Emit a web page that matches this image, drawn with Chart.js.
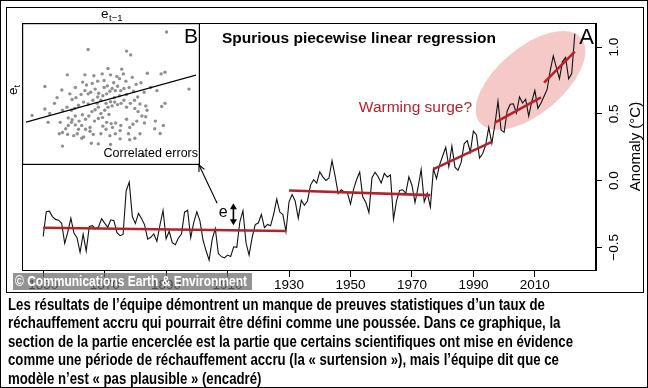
<!DOCTYPE html>
<html><head><meta charset="utf-8">
<script src="https://cdn.jsdelivr.net/npm/chart.js@4"></script>
<style>
html,body{margin:0;padding:0;background:#fff;}
#wrap{position:relative;width:648px;height:388px;overflow:hidden;background:#fff;}
canvas{position:absolute;display:block;}
#main{left:0;top:0;}
#inset{left:22px;top:23px;background:#fff;}
.frame{position:absolute;border:1.5px solid #000;box-sizing:border-box;pointer-events:none;}
#wm{position:absolute;left:13px;top:273px;width:239px;height:17px;background:rgba(105,105,105,0.72);overflow:hidden;}
#wm span{position:absolute;left:2px;top:0;white-space:nowrap;color:#fff;font:bold 14.5px "Liberation Sans",Arial,sans-serif;line-height:17px;transform-origin:0 50%;}
#caption{position:absolute;left:8px;top:295px;color:#000;}
#caption div{white-space:nowrap;font:bold 16.5px "Liberation Sans",Arial,sans-serif;line-height:18.4px;transform-origin:0 50%;}
</style></head>
<body>
<div id="wrap">
<canvas id="main" width="648" height="388"></canvas>
<canvas id="inset" width="178" height="142"></canvas>
<div id="wm"><span>© Communications Earth &amp; Environment</span></div>
<div class="frame" style="left:0;top:0;width:648px;height:388px"></div>
<div class="frame" style="left:6px;top:7px;width:638px;height:286px"></div>
<div id="caption">
<div>Les résultats de l’équipe démontrent un manque de preuves statistiques d’un taux de</div>
<div>réchauffement accru qui pourrait être défini comme une poussée. Dans ce graphique, la</div>
<div>section de la partie encerclée est la partie que certains scientifiques ont mise en évidence</div>
<div>comme une période de réchauffement accru (la « surtension »), mais l’équipe dit que ce</div>
<div>modèle n’est « pas plausible » (encadré)</div>
</div>
</div>
<script>
// ---------------- data ----------------
const startYear = 1850;
const anomaly = [
-0.418,-0.233,-0.229,-0.270,-0.291,-0.297,-0.320,-0.471,-0.387,-0.282,
-0.393,-0.428,-0.537,-0.401,-0.529,-0.344,-0.338,-0.361,-0.348,-0.285,
-0.319,-0.350,-0.294,-0.301,-0.391,-0.413,-0.404,-0.077,-0.012,-0.270,
-0.322,-0.246,-0.284,-0.332,-0.439,-0.425,-0.400,-0.455,-0.333,-0.224,
-0.436,-0.380,-0.465,-0.480,-0.430,-0.401,-0.237,-0.222,-0.428,-0.314,
-0.234,-0.302,-0.444,-0.526,-0.596,-0.441,-0.359,-0.547,-0.570,-0.579,
-0.558,-0.568,-0.496,-0.500,-0.309,-0.226,-0.466,-0.558,-0.425,-0.330,
-0.318,-0.254,-0.352,-0.329,-0.339,-0.251,-0.139,-0.236,-0.255,-0.383,
-0.159,-0.105,-0.153,-0.282,-0.148,-0.185,-0.153,-0.034,0.007,-0.019,
0.065,0.028,0.001,0.019,0.149,0.033,-0.098,-0.069,-0.085,-0.091,
-0.177,-0.066,0.008,0.063,-0.122,-0.165,-0.240,0.022,0.062,0.028,
-0.019,0.053,0.026,0.041,-0.290,-0.150,-0.074,-0.069,-0.096,0.028,
-0.035,-0.165,-0.050,0.084,-0.159,-0.095,-0.199,0.087,0.014,0.118,
0.184,0.249,0.104,0.259,0.100,0.077,0.134,0.275,0.300,0.214,
0.370,0.341,0.168,0.201,0.266,0.398,0.278,0.420,0.594,0.379,
0.361,0.521,0.572,0.575,0.506,0.626,0.581,0.609,0.483,0.593,
0.674,0.541,0.581,0.631,0.683,0.824,0.933,0.846,0.763,0.891,
0.923,0.762,0.801,1.100
];
const xTickYears = [1850,1870,1890,1910,1930,1950,1970,1990,2010];
const yTickValues = [-0.5,0,0.5,1.0];
const yTickLabels = ['\u22120.5','0.0','0.5','1.0'];
// piecewise regression segments
const segStartYears  = [1850, 1930, 1977, 1997, 2013];
const segEndYears    = [1929, 1976, 1996, 2012, 2023];
const segStartValues = [-0.354, -0.075, 0.086, 0.433, 0.733];
const segEndValues   = [-0.378, -0.109, 0.290, 0.623, 0.965];
// inset: lagged residuals e(t-1) vs e(t)
const residPrev = [0.175,-0.070,0.050,0.063,-0.135,-0.008,0.035,0.040,-0.026,0.000,-0.052,-0.080,0.115,0.158,0.170,0.245,-0.205,-0.152,-0.087,-0.075,-0.057,-0.040,-0.020,0.020,0.028,0.048,0.068,0.080,0.095,-0.127,-0.120,-0.108,-0.092,-0.080,-0.062,-0.048,-0.037,-0.024,-0.012,-0.002,0.005,0.015,0.022,0.032,0.042,0.050,0.058,0.072,0.028,0.012,0.000,-0.014,-0.030,-0.042,-0.055,-0.070,-0.084,-0.100,-0.112,-0.122,-0.136,-0.150,-0.167,-0.205,-0.190,-0.245,-0.195,-0.157,-0.132,-0.120,-0.110,-0.098,-0.088,-0.078,-0.068,-0.058,-0.048,-0.038,-0.030,-0.018,-0.008,0.005,0.013,0.022,0.033,0.042,0.050,0.062,0.076,0.086,0.092,0.110,0.114,0.110,0.098,0.082,0.070,0.060,0.050,0.032,0.016,0.002,-0.012,-0.024,-0.038,-0.050,-0.064,-0.078,-0.090,-0.100,-0.110,-0.122,-0.132,-0.140,-0.150,-0.160,-0.134,-0.104,-0.084,-0.064,-0.054,-0.030,-0.014,-0.002,0.015,0.030,0.006,0.056,0.092,0.106,0.140,0.138,0.000,-0.038,-0.060,-0.150,0.102,0.060,0.076,0.030,-0.090,-0.115,-0.025,-0.005,0.075,0.085,0.105,0.125,0.145,0.160,0.170,0.155,0.165,-0.175,-0.010,-0.020,0.010,-0.070,-0.110,-0.040];
const residCurr = [0.245,0.190,0.185,0.173,0.110,0.130,0.128,0.113,0.113,0.110,0.107,0.110,0.115,0.113,0.118,0.065,0.073,0.062,0.087,0.078,0.083,0.090,0.092,0.105,0.098,0.090,0.102,0.080,0.085,0.050,0.032,0.038,0.048,0.060,0.055,0.065,0.052,0.044,0.050,0.058,0.067,0.060,0.074,0.060,0.067,0.048,0.070,0.058,0.044,0.038,0.025,0.020,0.030,0.020,0.030,0.018,0.024,0.014,0.004,-0.002,0.008,-0.002,0.038,0.002,-0.012,-0.018,-0.040,-0.040,-0.026,-0.032,-0.020,-0.036,-0.016,-0.030,-0.020,-0.006,0.000,0.008,-0.012,-0.002,0.008,0.012,0.024,0.016,0.020,0.030,0.008,0.020,0.004,-0.006,0.018,0.012,-0.002,-0.022,-0.020,-0.036,-0.046,-0.056,-0.030,-0.050,-0.042,-0.044,-0.040,-0.052,-0.028,-0.036,-0.056,-0.062,-0.050,-0.062,-0.048,-0.040,-0.050,-0.060,-0.072,-0.076,-0.078,-0.076,-0.086,-0.068,-0.078,-0.076,-0.062,-0.082,-0.076,-0.066,-0.056,-0.076,-0.076,-0.042,-0.036,-0.060,-0.110,-0.108,-0.106,-0.115,-0.144,-0.095,-0.090,-0.092,-0.090,-0.082,-0.025,-0.015,0.030,0.040,0.055,0.070,0.060,0.010,0.020,-0.075,-0.050,0.020,0.075,0.070,0.085,0.050,0.070,0.040];
const insetFit = {intercept: 0.0345, slope: 0.28};

// ---------------- build ----------------
const FONT = '"Liberation Sans", Arial, sans-serif';
const RED = '#b3222b';
const years = anomaly.map((_, i) => startYear + i);
const seriesPts = years.map((yr, i) => ({x: yr, y: anomaly[i]}));
const segDatasets = segStartYears.map((s, i) => ({
  data: [{x: s, y: segStartValues[i]}, {x: segEndYears[i], y: segEndValues[i]}],
  borderColor: RED, borderWidth: 2.6, pointRadius: 0, order: 0, borderCapStyle: 'butt'
}));

const deco = {
  id: 'deco',
  beforeDatasetsDraw(chart) {
    const {ctx, scales: {x, y}} = chart;
    ctx.save();
    ctx.translate(x.getPixelForValue(2008.6), y.getPixelForValue(0.75));
    ctx.rotate(-40 * Math.PI / 180);
    ctx.beginPath();
    ctx.ellipse(0, 0, 66, 33, 0, 0, Math.PI * 2);
    ctx.fillStyle = '#f6c9c9';
    ctx.fill();
    ctx.restore();
  },
  afterDraw(chart) {
    const {ctx, chartArea: a, scales: {x, y}} = chart;
    ctx.save();
    ctx.strokeStyle = '#000'; ctx.lineWidth = 1;
    ctx.strokeRect(a.left + 0.5, a.top + 0.5, a.right - a.left - 1, a.bottom - a.top);
    // rotated y tick labels
    ctx.fillStyle = '#000';
    ctx.font = '13.5px ' + FONT;
    ctx.textAlign = 'center'; ctx.textBaseline = 'middle';
    yTickValues.forEach((v, i) => {
      ctx.save();
      ctx.translate(a.right + 18, y.getPixelForValue(v));
      ctx.rotate(-Math.PI / 2);
      ctx.fillText(yTickLabels[i], 0, 0);
      ctx.restore();
    });
    // axis title
    ctx.save();
    ctx.translate(a.right + 40, (a.top + a.bottom) / 2);
    ctx.rotate(-Math.PI / 2);
    ctx.font = '15px ' + FONT;
    ctx.fillText('Anomaly (°C)', 0, 0);
    ctx.restore();
    // title
    ctx.textAlign = 'left';
    ctx.font = 'bold 15.5px ' + FONT;
    ctx.fillText('Spurious piecewise linear regression', 222, 39);
    // panel letter A
    ctx.font = '22px ' + FONT;
    ctx.textAlign = 'right';
    ctx.fillText('A', a.right - 2, 38);
    // warming surge
    ctx.fillStyle = RED;
    ctx.font = '15.5px ' + FONT;
    ctx.fillText('Warming surge?', 472, 108);
    // e label and double arrow
    ctx.fillStyle = '#000';
    ctx.font = '16px ' + FONT;
    ctx.textAlign = 'center';
    ctx.fillText('e', x.getPixelForValue(1908.6), y.getPixelForValue(-0.24));
    const ax = x.getPixelForValue(1911.9), ay1 = y.getPixelForValue(-0.17), ay2 = y.getPixelForValue(-0.335);
    ctx.lineWidth = 1.6;
    ctx.beginPath(); ctx.moveTo(ax, ay1 + 3); ctx.lineTo(ax, ay2 - 3); ctx.stroke();
    ctx.beginPath(); ctx.moveTo(ax, ay1); ctx.lineTo(ax - 3.5, ay1 + 6); ctx.lineTo(ax + 3.5, ay1 + 6); ctx.closePath(); ctx.fill();
    ctx.beginPath(); ctx.moveTo(ax, ay2); ctx.lineTo(ax - 3.5, ay2 - 6); ctx.lineTo(ax + 3.5, ay2 - 6); ctx.closePath(); ctx.fill();
    // arrow to inset
    const sx = x.getPixelForValue(1906.6), sy = y.getPixelForValue(-0.17);
    const ex = 199, ey = 165;
    ctx.lineWidth = 1.1;
    ctx.beginPath(); ctx.moveTo(sx, sy); ctx.lineTo(ex, ey); ctx.stroke();
    const ang = Math.atan2(ey - sy, ex - sx);
    ctx.beginPath();
    ctx.moveTo(ex - 7 * Math.cos(ang - 0.45), ey - 7 * Math.sin(ang - 0.45));
    ctx.lineTo(ex, ey);
    ctx.lineTo(ex - 7 * Math.cos(ang + 0.45), ey - 7 * Math.sin(ang + 0.45));
    ctx.stroke();
    // inset axis labels (outside inset box)
    ctx.font = '13.5px ' + FONT;
    ctx.textAlign = 'left'; ctx.textBaseline = 'alphabetic';
    ctx.fillText('e', 101, 18);
    ctx.font = '9.5px ' + FONT;
    ctx.fillText('t\u22121', 109, 21);
    ctx.save();
    ctx.translate(17, 95);
    ctx.rotate(-Math.PI / 2);
    ctx.font = '13.5px ' + FONT;
    ctx.fillText('e', 0, 0);
    ctx.font = '9.5px ' + FONT;
    ctx.fillText('t', 7.5, 3);
    ctx.restore();
    ctx.restore();
  }
};

new Chart(document.getElementById('main'), {
  type: 'line',
  data: {datasets: [
    ...segDatasets,
    {data: seriesPts, borderColor: '#111', borderWidth: 1.1, pointRadius: 0, tension: 0, order: 1}
  ]},
  options: {
    responsive: false, animation: false, devicePixelRatio: 1,
    layout: {padding: {left: 22, top: 23, right: 0, bottom: 0}},
    plugins: {legend: {display: false}, tooltip: {enabled: false}},
    scales: {
      x: {
        type: 'linear', position: 'bottom', min: 1843.1, max: 2029.9,
        grid: {display: true, drawOnChartArea: false, drawTicks: true, tickLength: 7, color: '#000', lineWidth: 1},
        border: {display: true, color: '#000', width: 1},
        ticks: {color: '#000', font: {family: FONT, size: 13.5}, padding: 0, autoSkip: false, maxRotation: 0, minRotation: 0,
                callback: v => String(v)},
        afterBuildTicks: s => { s.ticks = xTickYears.map(v => ({value: v})); },
        afterFit: s => { s.height = 118; }
      },
      y: {
        type: 'linear', position: 'right', min: -0.67, max: 1.18,
        grid: {display: true, drawOnChartArea: false, drawTicks: true, tickLength: 6, color: '#000', lineWidth: 1},
        border: {display: true, color: '#000', width: 1},
        ticks: {display: false},
        afterBuildTicks: s => { s.ticks = yTickValues.map(v => ({value: v})); },
        afterFit: s => { s.width = 52; }
      }
    }
  },
  plugins: [deco]
});

// ---------------- inset ----------------
const insetPts = residPrev.map((v, i) => ({x: v, y: residCurr[i]}));
const xMinI = -0.264, xMaxI = 0.267;
const insetDeco = {
  id: 'insetDeco',
  beforeDraw(chart) {
    const {ctx, width, height} = chart;
    ctx.save(); ctx.fillStyle = '#fff'; ctx.fillRect(0, 0, width, height); ctx.restore();
  },
  afterDraw(chart) {
    const {ctx, width, height} = chart;
    ctx.save();
    ctx.strokeStyle = '#000'; ctx.lineWidth = 1.2;
    ctx.strokeRect(0.6, 0.6, width - 1.2, height - 1.2);
    ctx.fillStyle = '#000';
    ctx.textAlign = 'right'; ctx.textBaseline = 'alphabetic';
    ctx.font = '21px ' + FONT;
    ctx.fillText('B', width - 2, 20);
    ctx.font = '12.5px ' + FONT;
    ctx.fillText('Correlated errors', width - 2, 134);
    ctx.restore();
  }
};
new Chart(document.getElementById('inset'), {
  type: 'scatter',
  data: {datasets: [
    {type: 'line', data: [{x: xMinI, y: insetFit.intercept + insetFit.slope * xMinI}, {x: xMaxI, y: insetFit.intercept + insetFit.slope * xMaxI}],
     borderColor: '#000', borderWidth: 1.2, pointRadius: 0, order: 0},
    {data: insetPts, backgroundColor: '#8f8f8f', borderWidth: 0, pointRadius: 1.7, order: 1}
  ]},
  options: {
    responsive: false, animation: false, devicePixelRatio: 1,
    layout: {padding: 0},
    plugins: {legend: {display: false}, tooltip: {enabled: false}},
    scales: {
      x: {type: 'linear', display: false, min: xMinI, max: xMaxI},
      y: {type: 'linear', display: false, min: -0.162, max: 0.261}
    }
  },
  plugins: [insetDeco]
});

// fit watermark and caption widths
const wm = document.querySelector('#wm span');
wm.style.transform = 'scaleX(' + (232 / wm.getBoundingClientRect().width) + ')';
const lines = document.querySelectorAll('#caption div');
const k = 565 / lines[0].getBoundingClientRect().width;
lines.forEach(l => l.style.transform = 'scaleX(' + k + ')');
</script>
</body></html>
